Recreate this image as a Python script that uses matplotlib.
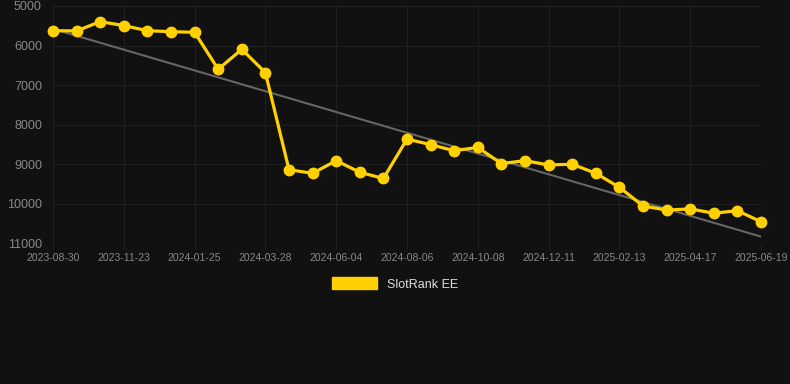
import numpy as np
import matplotlib.pyplot as plt

plt.rcParams['font.family'] = ['Liberation Sans', 'DejaVu Sans']

dates = ['2023-08-30', '2023-09-28', '2023-10-26', '2023-11-23', '2023-12-14',
         '2024-01-04', '2024-01-25', '2024-02-15', '2024-03-07', '2024-03-28',
         '2024-04-19', '2024-05-13', '2024-06-04', '2024-06-25', '2024-07-16',
         '2024-08-06', '2024-08-27', '2024-09-17', '2024-10-08', '2024-10-29',
         '2024-11-20', '2024-12-11', '2025-01-01', '2025-01-22', '2025-02-13',
         '2025-03-06', '2025-03-27', '2025-04-17', '2025-05-08', '2025-05-29',
         '2025-06-19']
rank = [5625, 5630, 5395, 5495, 5625, 5650, 5665, 6600, 6095, 6685,
        9140, 9230, 8910, 9205, 9360, 8365, 8505, 8660, 8575, 8985,
        8910, 9020, 9000, 9230, 9585, 10055, 10160, 10130, 10240, 10175,
        10455]

bg = '#111111'
yellow = '#FFD100'

x = np.arange(len(dates))
# linear trend
k, b = np.polyfit(x, rank, 1)

fig = plt.figure(figsize=(7.9, 3.84), dpi=100, facecolor=bg)
ax = fig.add_axes([53/790, 1-243.3/384, (761-53)/790, (243.3-6)/384])
ax.set_facecolor(bg)

ax.plot(x, k*x + b, color='#666666', lw=1.5, zorder=2)
ax.plot(x, rank, color=yellow, lw=2.3, marker='o', ms=7.5, zorder=3,
        label='SlotRank EE', clip_on=False)

ax.set_xlim(0, len(dates)-1)
ax.set_ylim(11000, 5000)
ax.set_yticks([5000, 6000, 7000, 8000, 9000, 10000, 11000])
ax.set_xticks(x[::3])
ax.set_xticklabels(dates[::3])
ax.grid(color='#202020', lw=0.8)
for s in ax.spines.values():
    s.set_visible(False)
ax.tick_params(axis='y', colors='#888888', labelsize=9, length=0, pad=8)
ax.tick_params(axis='x', colors='#888888', labelsize=7.5, length=4, pad=3, color='#202020')

leg = fig.legend(handles=[plt.Rectangle((0, 0), 1, 1, color=yellow)],
                 labels=['SlotRank EE'], loc='center', bbox_to_anchor=(0.5, 1-284/384),
                 frameon=False, handlelength=3.6, handleheight=1.1, fontsize=9)
for t in leg.get_texts():
    t.set_color('#dddddd')

fig.savefig('out.png', dpi=100, facecolor=bg)
